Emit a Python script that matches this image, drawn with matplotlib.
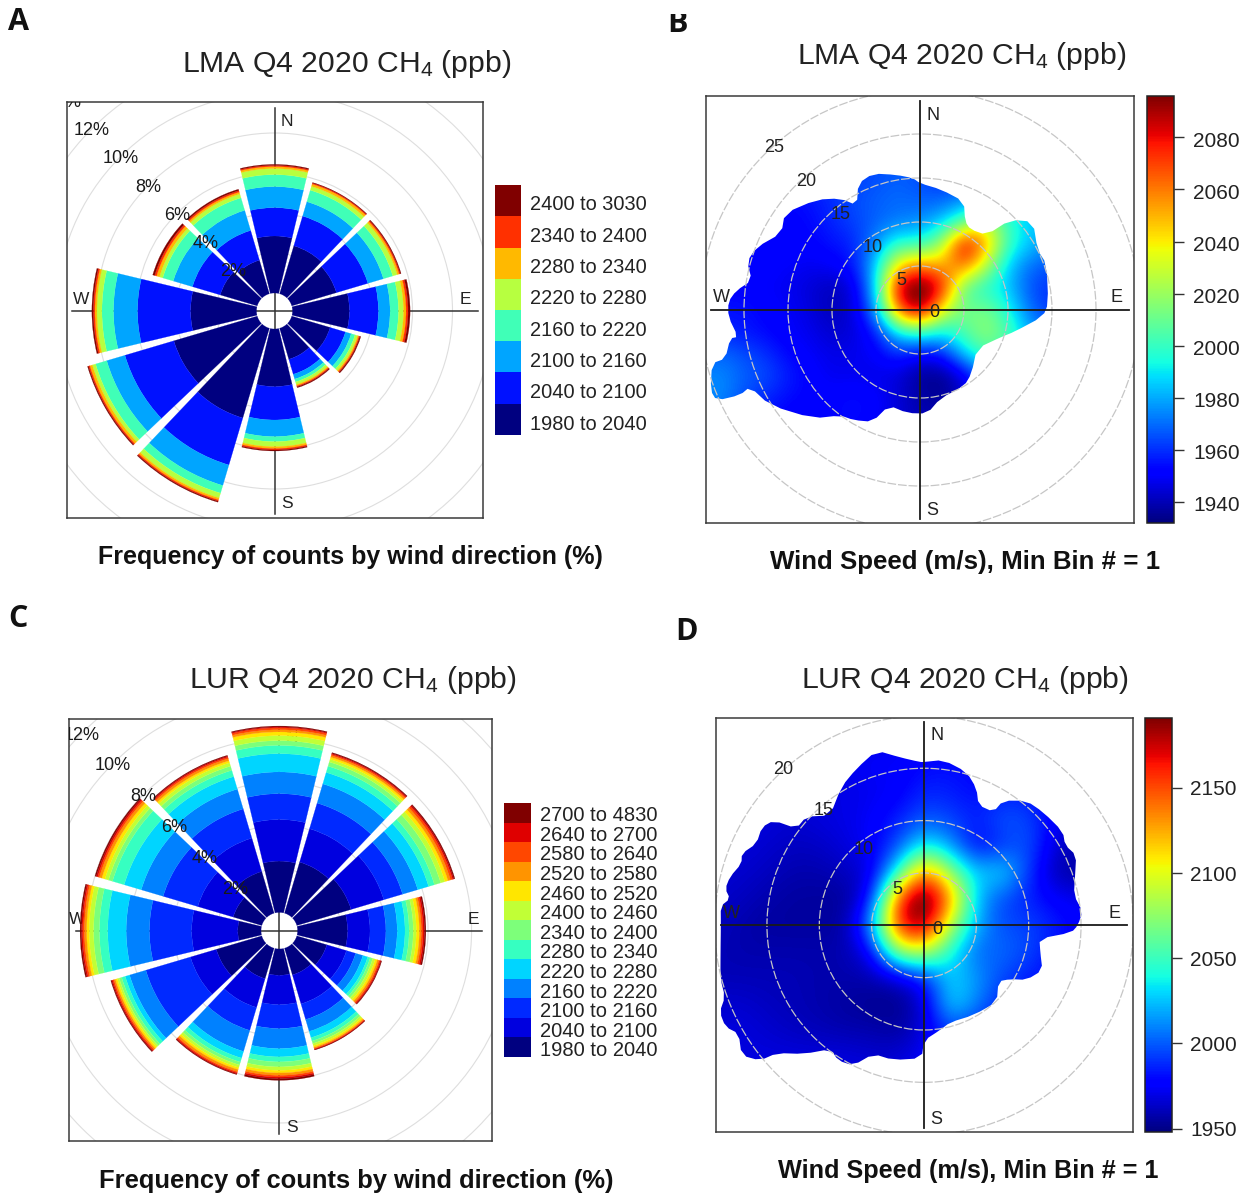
import numpy as np
import matplotlib
matplotlib.use('Agg')
import matplotlib.pyplot as plt
from matplotlib.patches import Wedge, Circle, Polygon
from matplotlib.cm import ScalarMappable
from matplotlib.colors import Normalize
from matplotlib.transforms import Bbox

plt.rcParams['font.family'] = ['Liberation Sans', 'DejaVu Sans']
plt.rcParams['mathtext.fontset'] = 'custom'
plt.rcParams['mathtext.rm'] = 'Liberation Sans'
plt.rcParams['mathtext.default'] = 'regular'

W, H = 1252, 1196

# wind direction of each rose sector
rose_dirs = [0, 30, 60, 90, 120, 150, 180, 210, 240, 270, 300, 330]

# panel A: percent of counts in each ppb bin, one row per direction
lma_bins = ['1980 to 2040', '2040 to 2100', '2100 to 2160', '2160 to 2220',
            '2220 to 2280', '2280 to 2340', '2340 to 2400', '2400 to 3030']
lma_freq = [
    [2.85, 1.42, 1.05, 0.60, 0.30, 0.10, 0.06, 0.05],
    [2.50, 1.55, 0.75, 0.60, 0.20, 0.12, 0.05, 0.03],
    [2.33, 1.64, 0.81, 0.49, 0.23, 0.10, 0.06, 0.04],
    [2.85, 1.45, 0.58, 0.42, 0.25, 0.13, 0.10, 0.10],
    [2.00, 0.80, 0.30, 0.20, 0.13, 0.07, 0.05, 0.05],
    [1.62, 0.78, 0.25, 0.15, 0.13, 0.07, 0.05, 0.05],
    [2.88, 1.67, 0.83, 0.25, 0.25, 0.10, 0.07, 0.05],
    [4.68, 2.45, 1.07, 0.40, 0.25, 0.10, 0.07, 0.05],
    [4.35, 2.55, 0.95, 0.58, 0.17, 0.13, 0.07, 0.05],
    [3.30, 2.65, 1.20, 0.58, 0.25, 0.10, 0.08, 0.07],
    [1.93, 1.45, 1.00, 0.55, 0.17, 0.15, 0.10, 0.10],
    [1.75, 1.55, 1.05, 0.65, 0.20, 0.10, 0.08, 0.07],
]

# panel C
lur_bins = ['1980 to 2040', '2040 to 2100', '2100 to 2160', '2160 to 2220',
            '2220 to 2280', '2280 to 2340', '2340 to 2400', '2400 to 2460',
            '2460 to 2520', '2520 to 2580', '2580 to 2640', '2640 to 2700',
            '2700 to 4830']
lur_freq = [
    [2.36, 1.91, 1.19, 1.00, 0.84, 0.38, 0.22, 0.23, 0.17, 0.10, 0.09, 0.04, 0.04],
    [2.45, 1.60, 1.23, 0.92, 0.55, 0.30, 0.20, 0.13, 0.10, 0.08, 0.06, 0.04, 0.04],
    [2.60, 1.57, 0.90, 0.73, 0.52, 0.28, 0.30, 0.20, 0.15, 0.12, 0.10, 0.06, 0.05],
    [2.30, 1.03, 0.73, 0.52, 0.36, 0.19, 0.19, 0.14, 0.14, 0.09, 0.08, 0.07, 0.06],
    [1.44, 0.94, 0.44, 0.35, 0.23, 0.12, 0.12, 0.12, 0.10, 0.08, 0.06, 0.04, 0.03],
    [1.28, 1.39, 0.75, 0.57, 0.30, 0.16, 0.12, 0.10, 0.08, 0.05, 0.04, 0.02, 0.02],
    [1.21, 1.35, 1.10, 0.92, 0.38, 0.23, 0.23, 0.16, 0.12, 0.11, 0.08, 0.07, 0.08],
    [1.46, 1.38, 1.10, 1.01, 0.32, 0.19, 0.14, 0.12, 0.10, 0.10, 0.06, 0.05, 0.03],
    [2.18, 1.24, 2.14, 0.78, 0.21, 0.17, 0.12, 0.09, 0.09, 0.07, 0.06, 0.05, 0.04],
    [1.07, 2.12, 1.94, 1.07, 0.85, 0.38, 0.27, 0.20, 0.12, 0.10, 0.08, 0.06, 0.06],
    [1.37, 1.70, 1.66, 1.05, 0.82, 0.56, 0.19, 0.17, 0.15, 0.12, 0.08, 0.07, 0.06],
    [2.00, 1.60, 1.40, 0.95, 0.60, 0.30, 0.20, 0.16, 0.10, 0.10, 0.07, 0.05, 0.04],
]

# panel B: ppb on a wind speed grid (u east, v north, m/s)
lma_u = [-25, -22.5, -20, -17.5, -15, -12.5, -10, -7.5, -5, -2.5, 0, 2.5, 5, 7.5, 10, 12.5, 15]
lma_v = [15, 12.5, 10, 7.5, 5, 2.5, 0, -2.5, -5, -7.5, -10, -12.5, -15]
lma_ppb = [
    [1958, 1958, 1958, 1958, 1958, 1958, 1960, 1962, 1965, 1968, 1965, 1960, 1958, 1960, 1965, 1965, 1965],
    [1955, 1955, 1955, 1955, 1953, 1955, 1960, 1965, 1968, 1970, 1968, 1968, 1975, 1982, 1985, 1985, 1985],
    [1952, 1952, 1952, 1952, 1952, 1953, 1958, 1963, 1968, 1972, 1975, 1985, 2005, 2030, 2000, 1985, 1980],
    [1950, 1950, 1950, 1952, 1952, 1952, 1955, 1958, 1975, 2000, 1995, 2020, 2092, 2055, 2000, 1985, 1975],
    [1950, 1950, 1952, 1952, 1950, 1948, 1950, 1955, 1985, 2045, 2062, 2050, 2065, 2025, 1985, 1970, 1965],
    [1952, 1952, 1952, 1950, 1948, 1945, 1940, 1945, 1985, 2088, 2110, 2082, 2005, 1995, 1985, 1965, 1960],
    [1955, 1955, 1955, 1952, 1950, 1946, 1940, 1945, 1975, 2065, 2098, 2035, 2010, 2015, 1995, 1970, 1960],
    [1960, 1958, 1956, 1953, 1950, 1948, 1943, 1945, 1955, 1990, 2000, 1990, 2005, 2020, 2005, 1980, 1970],
    [1965, 1970, 1965, 1960, 1953, 1950, 1947, 1948, 1950, 1960, 1950, 1955, 1985, 2005, 2000, 1985, 1975],
    [1975, 1975, 1968, 1965, 1957, 1952, 1948, 1948, 1947, 1945, 1935, 1933, 1945, 1970, 1985, 1985, 1980],
    [1975, 1975, 1965, 1958, 1954, 1952, 1952, 1955, 1952, 1945, 1938, 1935, 1945, 1960, 1970, 1975, 1975],
    [1970, 1970, 1960, 1955, 1950, 1950, 1952, 1955, 1950, 1945, 1940, 1940, 1945, 1950, 1960, 1965, 1965],
    [1965, 1965, 1958, 1955, 1950, 1950, 1950, 1950, 1950, 1945, 1940, 1940, 1945, 1950, 1955, 1960, 1960],
]
# edge of the covered area: direction (deg) and wind speed (m/s)
lma_edge_dir = [0, 10, 22, 27, 32, 41.6, 45, 52, 63, 70, 87, 93, 103, 108, 124, 141, 150, 167, 176, 187,
                198, 203, 211, 217, 224.6, 237.6, 245.7, 244.7, 246, 249, 255.6, 256, 261.5, 261.6, 268,
                272.5, 276, 280, 285.6, 291, 299, 305.6, 316.8, 324.4, 328.9, 334, 341, 350, 357]
lma_edge_ws = [14.4, 13.9, 13.3, 11.3, 10.8, 11.4, 14.5, 16.3, 15, 15.3, 14.6, 14, 11, 9.8, 7.8, 9.3, 10, 10.3, 11.8, 11.8,
               11.4, 13.8, 14.6, 15, 17.3, 20.2, 21.2, 22.6, 25.3, 25.5, 24.4, 22.8, 21.8, 20.9, 21.8,
               21.8, 21, 19.4, 20.4, 19.9, 18, 18.9, 17.2, 15.6, 13.9, 16, 16.4, 15.6, 15]

# panel D
lur_u = [-20, -17.5, -15, -12.5, -10, -7.5, -5, -2.5, 0, 2.5, 5, 7.5, 10, 12.5, 15]
lur_v = [17.5, 15, 12.5, 10, 7.5, 5, 2.5, 0, -2.5, -5, -7.5, -10, -12.5, -15]
lur_ppb = [
    [1972, 1972, 1972, 1972, 1972, 1972, 1972, 1972, 1975, 1975, 1975, 1972, 1970, 1970, 1970],
    [1970, 1970, 1970, 1970, 1970, 1972, 1975, 1975, 1980, 1982, 1978, 1975, 1972, 1970, 1970],
    [1968, 1968, 1968, 1968, 1968, 1970, 1972, 1975, 1988, 1985, 1980, 1985, 1985, 1970, 1965],
    [1968, 1968, 1968, 1965, 1968, 1970, 1975, 1985, 2000, 1995, 1985, 2000, 1995, 1975, 1960],
    [1968, 1968, 1965, 1962, 1963, 1968, 1975, 1995, 2040, 2015, 1975, 1990, 2000, 1965, 1958],
    [1966, 1965, 1962, 1958, 1958, 1962, 1968, 2040, 2145, 2075, 2025, 2035, 1990, 1958, 1955],
    [1965, 1962, 1958, 1955, 1955, 1953, 1978, 2155, 2215, 2135, 2020, 1995, 1985, 1975, 1972],
    [1962, 1958, 1955, 1955, 1955, 1955, 2015, 2170, 2195, 2085, 2020, 1995, 1995, 1985, 1975],
    [1960, 1958, 1958, 1958, 1958, 1958, 1975, 2085, 2095, 2040, 2000, 2005, 1995, 1980, 1975],
    [1960, 1960, 1960, 1960, 1958, 1958, 1958, 1965, 1985, 2030, 2015, 1995, 1985, 1980, 1975],
    [1965, 1965, 1962, 1960, 1958, 1955, 1952, 1950, 1965, 2035, 2010, 1985, 1980, 1975, 1975],
    [1968, 1968, 1965, 1962, 1960, 1958, 1958, 1955, 1968, 1995, 1985, 1980, 1975, 1975, 1975],
    [1970, 1968, 1968, 1968, 1968, 1968, 1965, 1965, 1975, 1985, 1980, 1975, 1975, 1975, 1975],
    [1970, 1970, 1970, 1970, 1970, 1970, 1970, 1970, 1975, 1980, 1980, 1975, 1975, 1975, 1975],
]
lur_edge_dir = [0, 6.7, 15.5, 21, 24.4, 31.5, 32.4, 39.4, 46.5, 56, 60.4, 65.3, 71.7, 78.6, 85, 90, 92.8, 96.6,
                103, 110.8, 118, 122, 127, 136.5, 151, 165, 171, 180, 181, 192.9, 201.5, 206.8, 212.4, 217,
                223, 229, 230.5, 234.5, 239.7, 242.9, 247, 250.2, 255.3, 262.5, 270, 275.4, 277.8, 280.4,
                284, 288.7, 291.5, 296, 301.2, 304.9, 307.2, 312.7, 319.5, 329.2, 336.7, 344.8, 351.9, 358.6]
lur_edge_ws = [15.6, 15.9, 15.2, 14, 12.6, 12.7, 14.1, 15.4, 15.7, 16, 15.5, 16, 15.2, 14.6, 15.2, 14.7, 14.1, 11.1,
               11.4, 12.1, 11.1, 9.7, 8.9, 10.1, 9.8, 9.6, 10.1, 11, 12.7, 13.2, 13.2, 15, 15.3, 14.8,
               16.8, 18.6, 20.3, 21.4, 20.5, 21.3, 21.2, 20.2, 20.1, 19.6, 19.4, 19.5, 18.7, 19.3,
               19.1, 18.4, 18.7, 17.8, 18.1, 17.5, 15.3, 15.3, 13.8, 15.4, 16.3, 17.3, 16.2, 15.6]

rose_rings = [2, 4, 6, 8, 10, 12, 14]

fig = plt.figure(figsize=(W / 100, H / 100), dpi=100)


def fx(x):
    return x / W


def fy(y):
    return 1 - y / H


def make_ax(left, top, right, bottom):
    ax = fig.add_axes([fx(left), fy(bottom), (right - left) / W, (bottom - top) / H])
    return ax


# text placed by picture pixel, on the figure or (clipped) inside an axes
def label(x, y, s, size, ax=None, **kw):
    kw.setdefault('ha', 'center')
    kw.setdefault('va', 'center')
    y = y + 2
    if ax is None:
        return fig.text(fx(x), fy(y), s, fontsize=size, **kw)
    return ax.text(fx(x), fy(y), s, fontsize=size, transform=fig.transFigure, clip_on=True, **kw)


def panel_box(ax, box, cx, cy, scale):
    left, top, right, bottom = box
    ax.set_xlim((left - cx) / scale, (right - cx) / scale)
    ax.set_ylim((cy - bottom) / scale, (cy - top) / scale)
    ax.set_xticks([])
    ax.set_yticks([])
    for s in ax.spines.values():
        s.set_color('#3a3a3a')
        s.set_linewidth(1.1)


def wind_rose(box, cx, cy, scale, hole, freq, compass, ring_color='#dedede'):
    ax = make_ax(*box)
    panel_box(ax, box, cx, cy, scale)

    # grid rings, offset by the centre hole
    for p in rose_rings:
        ax.add_patch(Circle((0, 0), p + hole, fill=False, ec=ring_color, lw=0.8, zorder=1))

    reach = 203 / scale
    ax.plot([-reach, reach], [0, 0], color='#333333', lw=1.1, zorder=2)
    ax.plot([0, 0], [-reach, reach], color='#333333', lw=1.1, zorder=2)
    for name, (x, y) in compass.items():
        label(x, y - 1, name, 12.5, ax=ax, color='#222222', zorder=2)

    freq = np.array(freq)
    colors = plt.cm.jet(np.linspace(0, 1, freq.shape[1]))
    half = 13.5
    for d, row in zip(rose_dirs, freq):
        r0 = hole
        for value, c in zip(row, colors):
            ax.add_patch(Wedge((0, 0), r0 + value, 90 - d - half, 90 - d + half,
                               width=value, fc=c, ec=c, lw=0.15, zorder=3))
            r0 += value

    # percent labels go up the NW diagonal
    for p in rose_rings:
        r = (p + hole) * np.sqrt(0.5)
        ax.text(-r, r - 2 / scale, str(p) + '%', fontsize=13, color='#1a1a1a', ha='center', va='center',
                clip_on=True, zorder=4)
    return ax


def legend_swatches(left, top, right, bottom, names):
    ax = make_ax(left, top, right, bottom)
    rows = np.arange(len(names))
    colors = plt.cm.jet(np.linspace(0, 1, len(names)))
    ax.barh(rows, np.ones(len(names)), height=1.0, color=colors, linewidth=0)
    ax.set_ylim(-0.5, len(names) - 0.5)
    ax.set_xlim(0, 1)
    ax.set_axis_off()


# round off the corners of the outline a little
def smooth_edge(pts):
    nxt = np.roll(pts, -1, axis=0)
    return np.column_stack([0.75 * pts + 0.25 * nxt, 0.25 * pts + 0.75 * nxt]).reshape(-1, 2)


def heat_panel(box, cx, cy, scale, u, v, ppb, edge_dir, edge_ws, vmin, vmax, rings, reach):
    ax = make_ax(*box)
    panel_box(ax, box, cx, cy, scale)
    step = abs(u[1] - u[0]) / 2
    im = ax.imshow(np.array(ppb, dtype=float), cmap='jet', vmin=vmin, vmax=vmax, interpolation='bicubic',
                   extent=[u[0] - step, u[-1] + step, v[-1] - step, v[0] + step], origin='upper', zorder=1)
    ax.set_xlim((box[0] - cx) / scale, (box[2] - cx) / scale)
    ax.set_ylim((cy - box[3]) / scale, (cy - box[1]) / scale)
    ax.set_aspect('auto')

    # only keep the part that has data
    rad = np.radians(edge_dir)
    pts = np.column_stack([np.array(edge_ws) * np.sin(rad), np.array(edge_ws) * np.cos(rad)])
    clip = Polygon(smooth_edge(pts), closed=True, transform=ax.transData, fc='none', ec='none')
    ax.add_patch(clip)
    im.set_clip_path(clip)

    for r in rings:
        ax.add_patch(Circle((0, 0), r, fill=False, ec='#c6c6c6', lw=0.9, ls=(0, (7, 1.5)), zorder=2))
    ax.plot([-reach, reach], [0, 0], color='#1a1a1a', lw=1.3, zorder=3)
    ax.plot([0, 0], [-reach, reach], color='#1a1a1a', lw=1.3, zorder=3)
    return ax


def color_bar(left, top, right, bottom, vmin, vmax, ticks, text_x, text_dy):
    cax = make_ax(left, top, right, bottom)
    cb = fig.colorbar(ScalarMappable(Normalize(vmin, vmax), cmap='jet'), cax=cax)
    cb.set_ticks(ticks)
    cb.set_ticklabels([])
    cb.ax.tick_params(length=7, width=1, color='#333333')
    cb.outline.set_edgecolor('#222222')
    cb.outline.set_linewidth(1.1)
    for t in ticks:
        y = top + (vmax - t) / (vmax - vmin) * (bottom - top)
        label(text_x, y + text_dy, str(t), 15, ha='left', color='#222222')


# A
wind_rose((67, 102, 483, 518), 274.5, 311, 20, 0.9, lma_freq,
          {'N': (287, 121), 'S': (287, 503), 'E': (465, 298), 'W': (81.5, 298)})
legend_swatches(495, 185, 521, 435, lma_bins)
for i, s in enumerate(lma_bins):
    label(530, 422 - i * 31.3, s, 14.4, ha='left', color='#222222')

# C
wind_rose((68.7, 719.3, 491.7, 1141), 279.3, 930.7, 21.75, 0.84, lur_freq,
          {'N': (292.3, 736), 'S': (292.3, 1127), 'E': (473.3, 918), 'W': (77.3, 918)})
legend_swatches(504, 803, 531, 1057, lur_bins)
for i, s in enumerate(lur_bins):
    label(540, 1049 - i * 19.6, s, 14.5, ha='left', color='#222222')

# B
heat_panel((706, 95.7, 1134, 522.7), 920, 310, 8.8, lma_u, lma_v, lma_ppb, lma_edge_dir, lma_edge_ws,
           1932, 2096, [5, 10, 15, 20, 25], 23.7)
color_bar(1146.7, 95.7, 1174.3, 522.7, 1932, 2096, [1940, 1960, 1980, 2000, 2020, 2040, 2060, 2080], 1193, 2)
for s, x, y in [('25', 774, 146), ('20', 806, 180), ('15', 840.7, 212.3), ('10', 873, 246), ('5', 901, 278),
                ('0', 934, 310.7), ('N', 932.7, 113), ('S', 932.7, 508), ('E', 1116, 296), ('W', 721.7, 296)]:
    label(x, y, s, 13, color='#222222')

# D
heat_panel((716, 718, 1132.7, 1132), 924, 925.3, 10.47, lur_u, lur_v, lur_ppb, lur_edge_dir, lur_edge_ws,
           1948, 2191, [5, 10, 15, 20], 19.4)
color_bar(1145, 718, 1172, 1132, 1948, 2191, [1950, 2000, 2050, 2100, 2150], 1190, 0)
for s, x, y in [('20', 783.3, 768), ('15', 823.3, 808.7), ('10', 863.3, 847.7), ('5', 897.3, 887),
                ('0', 937.3, 927), ('N', 936.7, 734), ('S', 936.7, 1118), ('E', 1114.7, 912), ('W', 731, 912)]:
    label(x, y, s, 13, color='#222222')

# titles and axis captions
for s, x, y in [('LMA Q4 2020 CH$_4$ (ppb)', 346.5, 62), ('LMA Q4 2020 CH$_4$ (ppb)', 962, 54),
                ('LUR Q4 2020 CH$_4$ (ppb)', 353, 678), ('LUR Q4 2020 CH$_4$ (ppb)', 965, 678)]:
    label(x, y, s, 21.7, color='#222222')
for s, x, y, size in [('Frequency of counts by wind direction (%)', 350.5, 555, 18),
                      ('Wind Speed (m/s), Min Bin # = 1', 965, 560, 18.6),
                      ('Frequency of counts by wind direction (%)', 356, 1179, 18.4),
                      ('Wind Speed (m/s), Min Bin # = 1', 968, 1169, 18.2)]:
    label(x, y, s, size, color='#111111', fontweight='bold')

# panel letters, the B is cut off at the top in the source
for s, x, y in [('A', 19, 20), ('C', 18, 617), ('D', 686, 630), ('B', 678, 22)]:
    t = label(x, y, s, 22, color='#111111', fontweight='bold', family=['Open Sans', 'DejaVu Sans'])
    if s == 'B':
        t.set_clip_box(Bbox([[660, 0], [700, H - 14]]))
        t.set_clip_on(True)

fig.savefig('out.png', dpi=100)
